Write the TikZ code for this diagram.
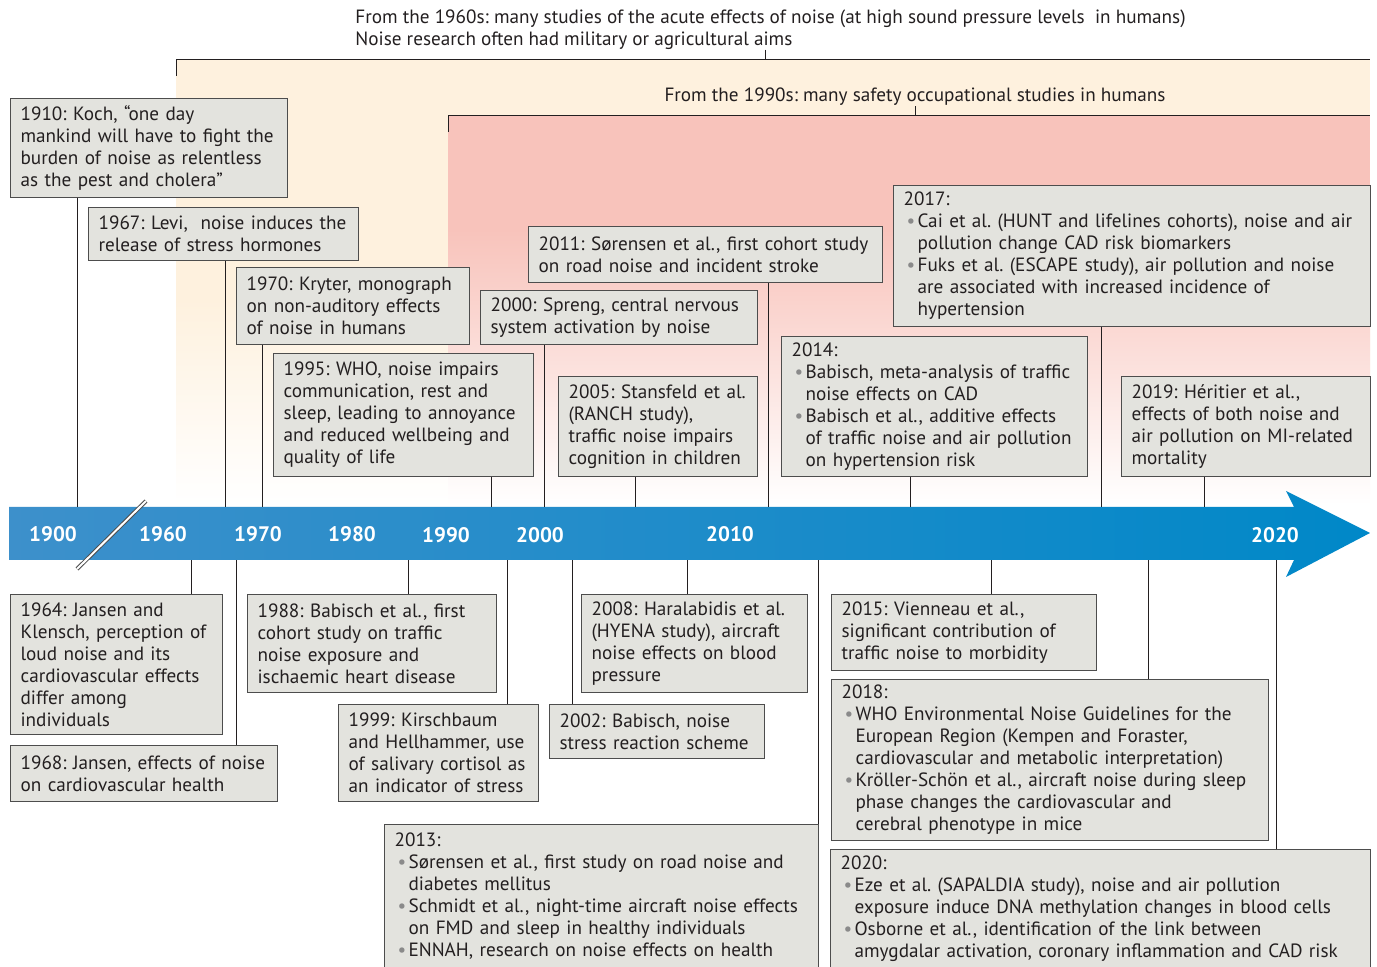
\documentclass[tikz,border=0pt]{standalone}
\usepackage{fontspec}
\setmainfont{PT Sans}
\usetikzlibrary{positioning}
\frenchspacing
\hyphenpenalty=10000
\exhyphenpenalty=10000

\definecolor{ink}{HTML}{231F20}
\definecolor{boxfill}{HTML}{E3E3DE}
\definecolor{boxline}{HTML}{4D4D4D}
\definecolor{cream}{HTML}{FEF1DE}
\definecolor{blush}{HTML}{F8C3BB}
\definecolor{barleft}{HTML}{3D90CB}
\definecolor{barright}{HTML}{0088C8}
\definecolor{dotgray}{HTML}{8A8A8A}

\newcommand{\evfont}{\fontsize{9.6}{11}\selectfont\hyphenpenalty=10000\relax}
\newcommand{\bpt}{\makebox[7pt][l]{\hspace{1.5pt}\textcolor{dotgray}{\textbullet}}}
\newcommand{\bind}{\hspace*{7pt}}

\tikzset{
  event/.style={draw=boxline, fill=boxfill, line width=0.6pt, anchor=north west,
    inner xsep=5pt, inner ysep=2pt, align=left, text=ink, font=\evfont},
  link/.style={draw=ink, line width=0.5pt},
  era/.style={inner sep=0pt, align=left, text=ink, font=\evfont},
  yearlbl/.style={text=white, font=\fontsize{10.5}{12}\selectfont\bfseries},
}

\begin{document}
\begin{tikzpicture}[x=0.5pt, y=-0.5pt]
    \useasboundingbox (0,0) rectangle (1377,967);

    % background bands
    \fill[cream] (176,60) rectangle (1370,300);
    \shade[top color=cream, bottom color=white] (176,299) rectangle (1370,505);
    \fill[blush] (448,116) rectangle (1370,230);
    \shade[top color=blush, bottom color=white] (448,229) rectangle (1370,505);

    % era labels
    \node[era, anchor=north west] (era60) at (355,9)
        {From the 1960s: many studies of the acute effects of noise (at high sound pressure levels\ \ in humans)\\
         Noise research often had military or agricultural aims};
    \node[era] (era90) at (915,97) {From the 1990s: many safety occupational studies in humans};
    \coordinate (tick60) at (765,60);
    \coordinate (tick90) at (915,116);
    \draw[link] (176,76) -- (176,60) -- (1370,60);
    \draw[link] (448,132) -- (448,116) -- (1370,116);
    \draw[link] (era60.south -| tick60) -- (tick60);
    \draw[link] (era90.south -| tick90) -- (tick90);

    % time axis
    \shade[left color=barleft, right color=barright]
        (9,507) -- (1294,507) -- (1286,491) -- (1370,533) -- (1286,577) -- (1294,560) -- (9,560) -- cycle;
    \draw[boxline, line width=2pt] (77,569) -- (146,501);
    \draw[white, line width=1pt] (77,569) -- (146,501);

    \node[yearlbl] (y1900) at (53,534)   {1900};
    \node[yearlbl] (y1960) at (163,534)  {1960};
    \node[yearlbl] (y1970) at (258,534)  {1970};
    \node[yearlbl] (y1980) at (352,534)  {1980};
    \node[yearlbl] (y1990) at (446,535)  {1990};
    \node[yearlbl] (y2000) at (540,535)  {2000};
    \node[yearlbl] (y2010) at (730,534)  {2010};
    \node[yearlbl] (y2020) at (1275,535) {2020};

    % events above the axis
    \node[event, text width=128.5pt, minimum height=49.5pt] (koch) at (10,98)
        {1910: Koch, “one day\\ mankind will have to fight the\\ burden of noise as relentless\\ as the pest and cholera”};
    \node[event, text width=125pt, minimum height=26.5pt] (levi) at (88,207)
        {1967: Levi,\ \ noise induces the\\ release of stress hormones};
    \node[event, text width=106.5pt, minimum height=38.5pt] (kryter) at (236,267)
        {1970: Kryter, monograph\\ on non-auditory effects\\ of noise in humans};
    \node[event, text width=120pt, minimum height=61.5pt] (who) at (273,353)
        {1995: WHO, noise impairs\\ communication, rest and\\ sleep, leading to annoyance\\ and reduced wellbeing and\\ quality of life};
    \node[event, text width=128.5pt, minimum height=27pt] (spreng) at (480,290)
        {2000: Spreng, central nervous\\ system activation by noise};
    \node[event, text width=167pt, minimum height=28pt] (sorensen) at (528,226)
        {2011: Sørensen et al., first cohort study\\ on road noise and incident stroke};
    \node[event, text width=89.5pt, minimum height=50pt] (stansfeld) at (558,376)
        {2005: Stansfeld et al.\\ (RANCH study),\\ traffic noise impairs\\ cognition in children};
    \node[event, text width=143pt, minimum height=70pt] (babisch14) at (781,336)
        {2014:\\ \bpt Babisch, meta-analysis of traffic\\ \bind noise effects on CAD\\
         \bpt Babisch et al., additive effects\\ \bind of traffic noise and air pollution\\ \bind on hypertension risk};
    \node[event, text width=228.5pt, minimum height=70.5pt] (cai) at (893,185)
        {2017:\\ \bpt Cai et al. (HUNT and lifelines cohorts), noise and air\\ \bind pollution change CAD risk biomarkers\\
         \bpt Fuks et al. (ESCAPE study), air pollution and noise\\ \bind are associated with increased incidence of\\ \bind hypertension};
    \node[event, text width=114.5pt, minimum height=50pt] (heritier) at (1121,376)
        {2019: Héritier et al.,\\ effects of both noise and\\ air pollution on MI-related\\ mortality};

    % events below the axis
    \node[event, text width=96pt, minimum height=70pt] (jansen64) at (10,594)
        {1964: Jansen and\\ Klensch, perception of\\ loud noise and its\\ cardiovascular effects\\ differ among\\ individuals};
    \node[event, text width=123.5pt, minimum height=28pt] (jansen68) at (10,745)
        {1968: Jansen, effects of noise\\ on cardiovascular health};
    \node[event, text width=114.5pt, minimum height=49pt] (babisch88) at (247,594)
        {1988: Babisch et al., first\\ cohort study on traffic\\ noise exposure and\\ ischaemic heart disease};
    \node[event, text width=90pt, minimum height=48.5pt] (kirschbaum) at (338,704)
        {1999: Kirschbaum\\ and Hellhammer, use\\ of salivary cortisol as\\ an indicator of stress};
    \node[event, text width=97.5pt, minimum height=27pt] (babisch02) at (549,704)
        {2002: Babisch, noise\\ stress reaction scheme};
    \node[event, text width=103pt, minimum height=49pt] (hyena) at (581,594)
        {2008: Haralabidis et al.\\ (HYENA study), aircraft\\ noise effects on blood\\ pressure};
    \node[event, text width=207pt, minimum height=71.5pt] (ennah) at (384,824)
        {2013:\\ \bpt Sørensen et al., first study on road noise and\\ \bind diabetes mellitus\\
         \bpt Schmidt et al., night-time aircraft noise effects\\ \bind on FMD and sleep in healthy individuals\\
         \bpt ENNAH, research on noise effects on health};
    \node[event, text width=122.5pt, minimum height=38pt] (vienneau) at (831,594)
        {2015: Vienneau et al.,\\ significant contribution of\\ traffic noise to morbidity};
    \node[event, text width=208.5pt, minimum height=80.5pt] (guidelines) at (831,679)
        {2018:\\ \bpt WHO Environmental Noise Guidelines for the\\ \bind European Region (Kempen and Foraster,\\ \bind cardiovascular and metabolic interpretation)\\
         \bpt Kröller-Schön et al., aircraft noise during sleep\\ \bind phase changes the cardiovascular and\\ \bind cerebral phenotype in mice};
    \node[event, text width=260pt, minimum height=59pt] (sapaldia) at (830,849)
        {2020:\\ \bpt Eze et al. (SAPALDIA study), noise and air pollution\\ \bind exposure induce DNA methylation changes in blood cells\\
         \bpt Osborne et al., identification of the link between\\ \bind amygdalar activation, coronary inflammation and CAD risk};

    % anchor points on the axis
    \coordinate (a1910) at (77,507);
    \coordinate (a1967) at (225,507);
    \coordinate (a1970) at (262,507);
    \coordinate (a1995) at (491,507);
    \coordinate (a2000) at (544,507);
    \coordinate (a2011) at (768,507);
    \coordinate (a2005) at (635,507);
    \coordinate (a2014) at (910,507);
    \coordinate (a2017) at (1101,507);
    \coordinate (a2019) at (1204,507);
    \coordinate (a1964) at (191,560);
    \coordinate (a1968) at (236,560);
    \coordinate (a1988) at (408,560);
    \coordinate (a1999) at (507,560);
    \coordinate (a2002) at (572,560);
    \coordinate (a2008) at (687,560);
    \coordinate (a2013) at (818,560);
    \coordinate (a2015) at (991,560);
    \coordinate (a2018) at (1148,560);
    \coordinate (a2020) at (1276,560);

    \draw[link] (koch.south -| a1910)       -- (a1910);
    \draw[link] (levi.south -| a1967)       -- (a1967);
    \draw[link] (kryter.south -| a1970)     -- (a1970);
    \draw[link] (who.south -| a1995)        -- (a1995);
    \draw[link] (spreng.south -| a2000)     -- (a2000);
    \draw[link] (sorensen.south -| a2011)   -- (a2011);
    \draw[link] (stansfeld.south -| a2005)  -- (a2005);
    \draw[link] (babisch14.south -| a2014)  -- (a2014);
    \draw[link] (cai.south -| a2017)        -- (a2017);
    \draw[link] (heritier.south -| a2019)   -- (a2019);
    \draw[link] (jansen64.north -| a1964)   -- (a1964);
    \draw[link] (jansen68.north -| a1968)   -- (a1968);
    \draw[link] (babisch88.north -| a1988)  -- (a1988);
    \draw[link] (kirschbaum.north -| a1999) -- (a1999);
    \draw[link] (babisch02.north -| a2002)  -- (a2002);
    \draw[link] (hyena.north -| a2008)      -- (a2008);
    \draw[link] (ennah.north -| a2013)      -- (a2013);
    \draw[link] (vienneau.north -| a2015)   -- (a2015);
    \draw[link] (guidelines.north -| a2018) -- (a2018);
    \draw[link] (sapaldia.north -| a2020)   -- (a2020);
\end{tikzpicture}
\end{document}
